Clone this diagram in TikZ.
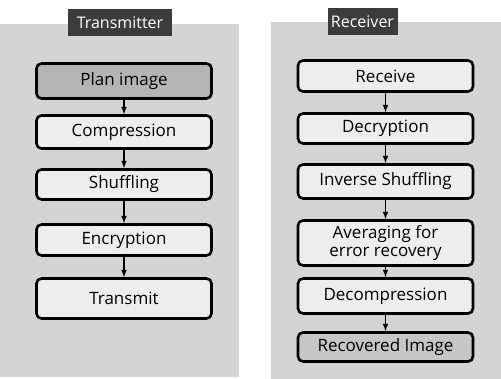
\documentclass[tikz,border=0pt]{standalone}
\usepackage{fontspec}
\setmainfont{Open Sans}
\usepackage{tikz}
\usetikzlibrary{arrows,shapes}
\usepackage{xcolor}

\definecolor{panelgray}{HTML}{D4D4D4}
\definecolor{boxgray}{HTML}{EDEDED}
\definecolor{darkbox}{HTML}{B4B4B4}
\definecolor{midbox}{HTML}{C6C6C6}
\definecolor{titlegray}{HTML}{3C3C3C}

\begin{document}
\begin{tikzpicture}[x=1pt, y=-1pt, main node/.style={draw, rounded corners=5pt, line width=2.6pt, fill=boxgray, minimum width=175pt, inner sep=0pt, align=center, font=\fontsize{17}{17.5}\selectfont}, title node/.style={fill=titlegray, text=white, inner sep=0pt, minimum height=27pt, font=\fontsize{16}{16}\selectfont}]
\useasboundingbox (0,0) rectangle (501,379);
% two gray panels
\fill[panelgray] (0,24) rectangle (239,377);
\fill[panelgray] (271,22) rectangle (501,379);

% transmitter side
\node[title node, minimum width=104pt] (tt) at (120,22.5) {Transmitter};
\node[main node, fill=darkbox, minimum height=35pt] (t1) at (124,81) {Plan image};
\node[main node, minimum height=33pt] (t2) at (124,132) {Compression};
\node[main node, minimum height=30pt] (t3) at (124,184.5) {Shuffling};
\node[main node, minimum height=31pt] (t4) at (124,240) {Encryption};
\node[main node, minimum height=40pt] (t5) at (124,298.5) {Transmit};

% receiver side
\node[title node, minimum width=70pt] (rt) at (362.5,22) {Receiver};
\node[main node, minimum height=31pt] (r1) at (385.5,76) {Receive};
\node[main node, minimum height=30pt] (r2) at (385.5,128.5) {Decryption};
\node[main node, minimum height=34pt] (r3) at (385.5,181.5) {Inverse Shuffling};
\node[main node, minimum height=45pt] (r4) at (385.5,243) {Averaging for\\error recovery};
\node[main node, minimum height=35pt] (r5) at (385.5,296) {Decompression};
\node[main node, fill=midbox, minimum height=29pt] (r6) at (385.5,347) {Recovered Image};

\path[-latex, line width=1.5pt]
(t1) edge (t2)
(t2) edge (t3)
(t3) edge (t4)
(t4) edge (t5)
(r1) edge (r2)
(r2) edge (r3)
(r3) edge (r4)
(r4) edge (r5)
(r5) edge (r6);
\end{tikzpicture}
\end{document}
